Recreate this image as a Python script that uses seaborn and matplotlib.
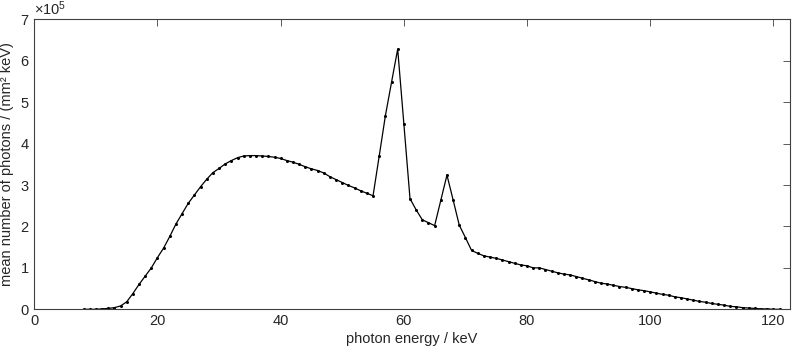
import numpy as np
import pandas as pd
import matplotlib
matplotlib.use('Agg')
import matplotlib.pyplot as plt
import seaborn as sns

# photon energy (keV), one sample per keV
energy = list(range(8, 122))

# mean number of photons / (mm^2 keV), in units of 1e5
photons_e5 = [
    0.00, 0.00, 0.00, 0.01, 0.02, 0.04, 0.08, 0.18, 0.38, 0.60,   # 8-17
    0.80, 1.00, 1.25, 1.48, 1.76, 2.06, 2.31, 2.56, 2.76, 2.96,   # 18-27
    3.14, 3.30, 3.40, 3.51, 3.59, 3.66, 3.70, 3.71, 3.71, 3.70,   # 28-37
    3.69, 3.67, 3.64, 3.59, 3.55, 3.50, 3.44, 3.39, 3.35, 3.29,   # 38-47
    3.20, 3.13, 3.06, 2.99, 2.93, 2.86, 2.80, 2.74, 3.70, 4.67,   # 48-57
    5.48, 6.28, 4.48, 2.67, 2.40, 2.16, 2.09, 2.02, 2.63, 3.24,   # 58-67
    2.64, 2.03, 1.73, 1.42, 1.35, 1.29, 1.26, 1.23, 1.19, 1.15,   # 68-77
    1.11, 1.07, 1.05, 1.00, 1.00, 0.96, 0.92, 0.88, 0.85, 0.83,   # 78-87
    0.79, 0.75, 0.71, 0.67, 0.63, 0.61, 0.58, 0.55, 0.53, 0.50,   # 88-97
    0.47, 0.45, 0.42, 0.39, 0.36, 0.34, 0.30, 0.28, 0.25, 0.22,   # 98-107
    0.19, 0.17, 0.14, 0.12, 0.10, 0.07, 0.06, 0.04, 0.03, 0.02,   # 108-117
    0.01, 0.01, 0.00, 0.00,                                       # 118-121
]

x_ticks = [0, 20, 40, 60, 80, 100, 120]
y_ticks = [0, 1e5, 2e5, 3e5, 4e5, 5e5, 6e5, 7e5]

df = pd.DataFrame({'energy': energy, 'photons': np.array(photons_e5) * 1e5})

sns.set_style('white')
plt.rcParams['font.family'] = ['Liberation Sans', 'DejaVu Sans']
plt.rcParams['font.size'] = 10.5
plt.rcParams['mathtext.fontset'] = 'custom'
plt.rcParams['mathtext.rm'] = 'Liberation Sans'

fig = plt.figure(figsize=(8, 3.54), dpi=100)
ax = fig.add_axes([0.0429, 0.1263, 0.9446, 0.8192])

sns.lineplot(
    data=df,
    x='energy',
    y='photons',
    ax=ax,
    color='black',
    linewidth=0.9,
    marker='o',
    markersize=2.2,
    markeredgewidth=0,
    markerfacecolor='black',
)

ax.set_xlim(0, 122.7)
ax.set_ylim(0, 7e5)
ax.set_xticks(x_ticks)
ax.set_yticks(y_ticks)
ax.ticklabel_format(axis='y', style='sci', scilimits=(5, 5), useMathText=True)
ax.yaxis.get_offset_text().set_color('#262626')
ax.yaxis.get_offset_text().set_fontsize(10.5)

ax.tick_params(direction='in', top=True, right=True, length=5, width=0.6,
               colors='#404040', labelcolor='#262626', labelsize=10.5)
for spine in ax.spines.values():
    spine.set_color('#404040')
    spine.set_linewidth(0.8)

ax.set_xlabel('photon energy / keV', color='#262626', labelpad=3)
ax.set_ylabel('mean number of photons / (mm² keV)', color='#262626', labelpad=4)

fig.savefig('out.png', dpi=100)
